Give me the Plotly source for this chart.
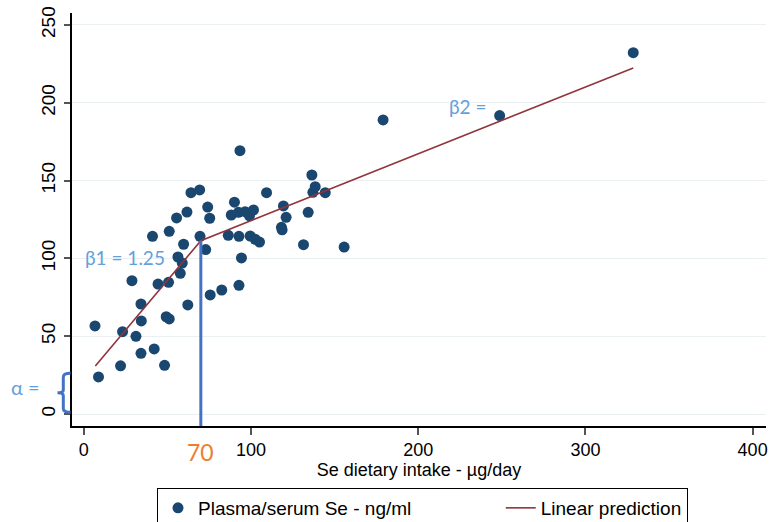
import plotly.graph_objects as go

# Scatter data: Se dietary intake (µg/day) vs plasma/serum Se (ng/ml)
intake = [6.7, 8.8, 22.0, 23.2, 28.8, 31.2, 34.2, 34.4, 34.2, 41.1, 42.1, 44.4, 48.3,
          49.3, 51.1, 51.1, 50.7, 55.5, 56.3, 57.7, 58.9, 59.7, 61.7, 62.2, 64.1, 69.3,
          69.5, 72.9, 74.1, 75.3, 75.6, 82.5, 86.4, 88.2, 90.1, 92.8, 92.8, 93.4, 94.3,
          92.5, 96.5, 99.1, 99.5, 101.5, 102.5, 105.1, 109.3, 118.2, 118.6, 119.4, 121.0,
          131.4, 134.2, 136.4, 138.4, 137.0, 144.4, 155.7, 179.0, 248.7, 328.6]
plasma = [56.6, 23.8, 31.0, 52.9, 85.7, 49.9, 70.7, 59.8, 39.0, 114.2, 41.8, 83.5, 31.3,
          62.5, 61.1, 117.4, 84.6, 126.0, 100.9, 90.4, 97.0, 109.1, 129.8, 70.1, 142.2, 144.0,
          114.2, 105.7, 133.0, 125.8, 76.5, 79.7, 114.8, 127.9, 136.1, 114.2, 82.7, 169.2, 100.3,
          129.6, 130.0, 127.4, 114.4, 131.1, 112.3, 110.5, 142.2, 120.0, 118.4, 133.7, 126.4,
          108.8, 129.6, 153.6, 146.1, 142.5, 142.2, 107.3, 189.0, 191.8, 232.2]

# Piecewise linear prediction (knot at 70)
fit_x = [6.9, 70.0, 328.6]
fit_y = [30.8, 111.4, 222.4]

knot = 70
x_ticks = [0, 100, 200, 300, 400]
y_ticks = [0, 50, 100, 150, 200, 250]

W, H = 771, 522
L, R, T, B = 72, 5, 13, 96
pw = W - L - R
ph = H - T - B

def px2paper_x(p):
    return (p - L) / pw

def px2paper_y(p):
    return (H - B - p) / ph

ann_col = "#64a0dc"
blue = "#4472c4"
NBSP = "\u00a0"

fig = go.Figure()
fig.add_trace(go.Scatter(
    x=intake, y=plasma, mode="markers", name="Plasma/serum Se - ng/ml" + NBSP * 16,
    marker=dict(color="#1a476f", size=11, line=dict(width=0)),
))
fig.add_trace(go.Scatter(
    x=fit_x, y=fit_y, mode="lines", name="Linear prediction",
    line=dict(color="#90353b", width=1.6),
))

shapes = [
    dict(type="line", xref="x", yref="y", x0=knot, x1=knot, y0=-7.7, y1=fit_y[1],
         line=dict(color=blue, width=3)),
]
vx = px2paper_x(63.3)
ax = px2paper_x(70.5)
nx = px2paper_x(57.5)
top, mid, bot = 26.2, 13.7, 1.1
path = (f"M {ax},{top} Q {vx},{top} {vx},{top-2.5} L {vx},{mid+1.8} "
        f"Q {vx},{mid} {nx},{mid} Q {vx},{mid} {vx},{mid-1.8} L {vx},{bot+2.5} "
        f"Q {vx},{bot} {ax},{bot}")
shapes.append(dict(type="path", xref="paper", yref="y", path=path,
                   line=dict(color=blue, width=3)))

annotations = [
    dict(text="β1 = 1.25", xref="x", yref="y", x=-0.5, y=100.5, xanchor="left",
         yanchor="middle", showarrow=False, font=dict(family="Lato", size=19, color=ann_col)),
    dict(text="β2 =", xref="x", yref="y", x=217.5, y=197.5, xanchor="left",
         yanchor="middle", showarrow=False, font=dict(family="Lato", size=19, color=ann_col)),
    dict(text="α =", xref="paper", yref="y", x=px2paper_x(9), y=17.5, xanchor="left",
         yanchor="middle", showarrow=False, font=dict(family="Lato", size=20, color=ann_col)),
    dict(text="70", xref="x", yref="paper", x=knot, y=px2paper_y(452.5), xanchor="center",
         yanchor="middle", showarrow=False, font=dict(family="Lato", size=23, color="#ed7d31")),
]

fig.update_layout(
    width=W, height=H,
    margin=dict(l=L, r=R, t=T, b=B, autoexpand=False),
    paper_bgcolor="white", plot_bgcolor="white",
    font=dict(family="Liberation Sans, Arial, sans-serif", size=18, color="black"),
    showlegend=True,
    legend=dict(orientation="h", x=px2paper_x(157), xanchor="left", y=px2paper_y(488),
                yanchor="top", bordercolor="black", borderwidth=1, font=dict(size=19),
                tracegroupgap=0),
    shapes=shapes, annotations=annotations,
    xaxis=dict(range=[-7.05, 408], tickvals=x_ticks, showgrid=False, zeroline=False,
               showline=True, linecolor="black", linewidth=1.5, ticks="outside",
               ticklen=7, tickcolor="#555", tickwidth=1.5, automargin=False,
               tickfont=dict(size=18),
               title=dict(text="Se dietary intake - µg/day", font=dict(size=18), standoff=2)),
    yaxis=dict(range=[-7.7, 257.7], tickvals=y_ticks, showgrid=True, gridcolor="#eaf0f2",
               gridwidth=1.2, zeroline=False, showline=True, linecolor="black", linewidth=1.5,
               ticks="outside", ticklen=6, tickcolor="#555", tickwidth=1.5, tickangle=-90,
               automargin=False, tickfont=dict(size=19), ticklabelstandoff=2),
)

fig.write_html("out.html", config={"displayModeBar": False},
               post_script="document.body.style.margin='0';document.body.style.overflow='hidden';")
